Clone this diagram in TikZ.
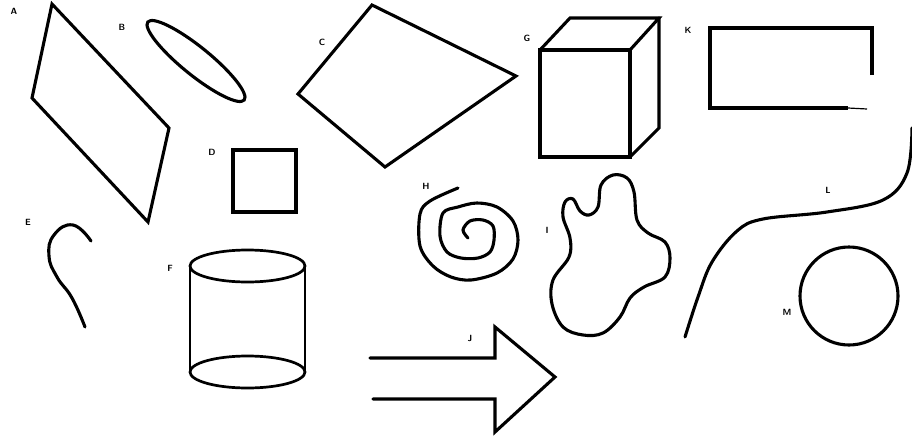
\documentclass[tikz,border=0pt]{standalone}
\usetikzlibrary{positioning}

\begin{document}
\begin{tikzpicture}[
  x=1pt, y=-1pt,
  shape line/.style={draw=black, line width=3.1pt, line join=miter, line cap=round},
  thin line/.style={draw=black, line width=1.2pt},
  lbl/.style={font=\sffamily\bfseries\fontsize{9}{10}\selectfont, inner sep=0pt},
]
\useasboundingbox (0,0) rectangle (912,439);
% row 1: A, B, C, G, K
\draw[shape line] (52,4) -- (32,98) -- (148,222) -- (169,128) -- cycle;
\draw[shape line, rotate around={-39:(196,61)}] (196,61) ellipse [x radius=62, y radius=14];
\draw[shape line] (372,5) -- (298,94) -- (385,167) -- (516,76) -- cycle;
\draw[shape line] (540,50) rectangle (630,157);
\draw[shape line] (540,50) -- (570,18) -- (659,18) -- (630,50);
\draw[shape line] (659,18) -- (659,128) -- (630,157);
\draw[shape line, line cap=butt] (872,75) -- (872,28) -- (710,28) -- (710,108) -- (848,108);
\draw[thin line] (848,108) -- (867,109);
% row 2: D, E, H, I, L
\draw[shape line] (233,150) rectangle (296,212);
\draw[shape line] plot[smooth, tension=0.8] coordinates {(91,241) (73,225) (54,235) (49,256) (57,277) (72,298) (85,327)};
\draw[shape line] plot[smooth, tension=0.55] coordinates {(458,188) (430,201) (420,214) (420,246) (433,266)
  (451,277) (471,280) (497,273) (513,259) (518,240) (513,221) (497,207) (477,203) (458,207)
  (443,213) (440,236) (447,252) (461,258) (478,258) (490,252) (494,240) (493,226) (483,220)
  (470,221) (463,230) (468,238)};
\draw[shape line] plot[smooth cycle, tension=0.6] coordinates {(565,202) (573,199) (580,211) (589,215)
  (598,207) (601,185) (613,175) (627,178) (634,192) (637,220) (648,233) (665,242) (670,258)
  (665,277) (644,287) (630,298) (620,317) (603,333) (583,335) (563,327) (552,304) (553,280)
  (569,257) (570,238) (563,217)};
\draw[shape line] plot[smooth, tension=0.6] coordinates {(912,128) (907,173) (883,200) (827,212)
  (763,219) (737,231) (712,262) (698,297) (685,337)};
% row 3: F, J, M
\draw[shape line, line width=2.7pt] (190,266) -- (190,372) (305,266) -- (305,372);
\draw[shape line, line width=2.7pt] (247.5,266) ellipse [x radius=57.5, y radius=16];
\draw[shape line, line width=2.7pt] (247.5,372) ellipse [x radius=57.5, y radius=16];
\draw[shape line] (370,358) -- (495,358) -- (495,327) -- (555,377) -- (495,432) -- (495,399) -- (373,399);
\draw[shape line] (849,296) circle [radius=49];
% labels
\node[lbl] (lblA) at (14,11) {A};
\node[lbl] (lblB) at (122,27) {B};
\node[lbl] (lblC) at (322,42) {C};
\node[lbl] (lblD) at (212,152) {D};
\node[lbl] (lblE) at (28,222) {E};
\node[lbl] (lblF) at (170,268) {F};
\node[lbl] (lblG) at (527,38) {G};
\node[lbl] (lblH) at (426,186) {H};
\node[lbl] (lblI) at (547,230) {I};
\node[lbl] (lblJ) at (470,338) {J};
\node[lbl] (lblK) at (688,30) {K};
\node[lbl] (lblL) at (828,190) {L};
\node[lbl] (lblM) at (787,312) {M};
\end{tikzpicture}
\end{document}
